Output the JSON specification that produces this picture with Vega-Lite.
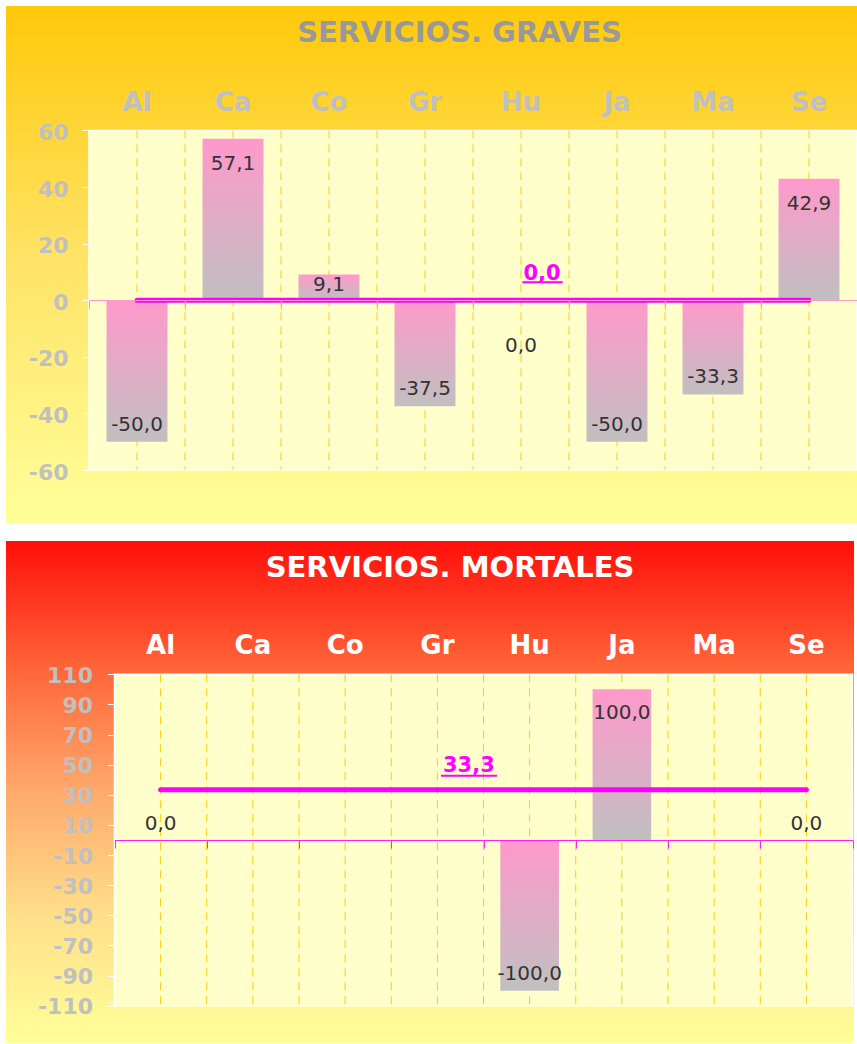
{
  "$schema": "https://vega.github.io/schema/vega-lite/v6.json",
  "padding": {"left": 6, "top": 6, "right": 0, "bottom": 0},
  "background": "white",
  "spacing": 18,
  "config": {
    "locale": {"number": {"decimal": ",", "thousands": ".", "grouping": [3], "currency": ["", " €"], "minus": "-"}},
    "font": "DejaVu Sans",
    "axis": {"grid": false, "title": null}
  },
  "datasets": {
    "graves": [
      {"cat": "Al", "v": -50.0},
      {"cat": "Ca", "v": 57.1},
      {"cat": "Co", "v": 9.1},
      {"cat": "Gr", "v": -37.5},
      {"cat": "Hu", "v": 0.0},
      {"cat": "Ja", "v": -50.0},
      {"cat": "Ma", "v": -33.3},
      {"cat": "Se", "v": 42.9}
    ],
    "mortales": [
      {"cat": "Al", "v": 0.0},
      {"cat": "Ca", "v": null},
      {"cat": "Co", "v": null},
      {"cat": "Gr", "v": null},
      {"cat": "Hu", "v": -100.0},
      {"cat": "Ja", "v": 100.0},
      {"cat": "Ma", "v": null},
      {"cat": "Se", "v": 0.0}
    ],
    "graves_media": [{"cat": "Al", "media": 0.0}, {"cat": "Se", "media": 0.0}],
    "mortales_media": [{"cat": "Al", "media": 33.3}, {"cat": "Se", "media": 33.3}]
  },
  "vconcat": [
    {
      "width": 851,
      "height": 517,
      "view": {"stroke": null, "fill": {"gradient": "linear", "x1": 0, "y1": 0, "x2": 0, "y2": 1, "stops": [{"offset": 0, "color": "#FFC90A"}, {"offset": 0.5, "color": "#FFE468"}, {"offset": 1, "color": "#FFFF99"}]}},
      "title": {"text": "SERVICIOS. GRAVES", "anchor": "middle", "frame": "group", "offset": -64.5, "baseline": "alphabetic", "dx": 28, "fontSize": 29, "fontWeight": "bold", "color": "#999999", "font": "DejaVu Sans"},
      "data": {"name": "graves"},
      "resolve": {"axis": {"x": "independent", "y": "independent"}},
      "layer": [
        {
          "data": {"values": [{}]},
          "mark": {"type": "rect", "fill": "#FFFFCC", "stroke": "white", "strokeWidth": 1.5},
          "encoding": {
            "x": {"datum": "Al", "bandPosition": 0, "type": "nominal", "scale": {"type": "band", "domain": ["Al", "Ca", "Co", "Gr", "Hu", "Ja", "Ma", "Se"], "range": [83, 851], "paddingInner": 0, "paddingOuter": 0}, "axis": null},
            "x2": {"datum": "Se", "bandPosition": 1},
            "y": {"datum": 60, "type": "quantitative", "scale": {"domain": [-78.73, 104.0], "nice": false, "zero": false}, "axis": null},
            "y2": {"datum": -60}
          }
        },
        {
          "mark": {"type": "rule", "color": "#FFCC00", "strokeDash": [8, 6], "strokeWidth": 1},
          "encoding": {
            "x": {"field": "cat", "type": "nominal", "scale": {"type": "band", "domain": ["Al", "Ca", "Co", "Gr", "Hu", "Ja", "Ma", "Se"], "range": [83, 851], "paddingInner": 0, "paddingOuter": 0},
              "axis": {"orient": "top", "offset": -104, "domain": false, "ticks": false, "tickSize": 0, "labelPadding": 0, "labelBaseline": "alphabetic", "labelFont": "DejaVu Sans", "labelFontSize": 26, "labelFontWeight": "bold", "labelColor": "#C0C0C0", "labelAngle": 0, "grid": false, "zindex": 1, "title": null}},
            "y": {"datum": 60, "type": "quantitative", "scale": {"domain": [-78.73, 104.0], "nice": false, "zero": false}, "axis": null},
            "y2": {"datum": -60}
          }
        },
        {
          "transform": [{"filter": "datum.cat != 'Al'"}],
          "mark": {"type": "rule", "color": "#FFCC00", "strokeDash": [8, 6], "strokeWidth": 1},
          "encoding": {
            "x": {"field": "cat", "type": "nominal", "bandPosition": 0, "scale": {"type": "band", "domain": ["Al", "Ca", "Co", "Gr", "Hu", "Ja", "Ma", "Se"], "range": [83, 851], "paddingInner": 0, "paddingOuter": 0}, "axis": null},
            "y": {"datum": 60, "type": "quantitative", "scale": {"domain": [-78.73, 104.0], "nice": false, "zero": false}, "axis": null},
            "y2": {"datum": -60}
          }
        },
        {
          "transform": [{"filter": "datum.v != null"}],
          "mark": {"type": "bar", "width": {"band": 0.635}, "color": {"gradient": "linear", "x1": 0, "y1": 0, "x2": 0, "y2": 1, "stops": [{"offset": 0, "color": "#FF99CC"}, {"offset": 1, "color": "#C0C0C0"}]}},
          "encoding": {
            "x": {"field": "cat", "type": "nominal", "scale": {"type": "band", "domain": ["Al", "Ca", "Co", "Gr", "Hu", "Ja", "Ma", "Se"], "range": [83, 851], "paddingInner": 0, "paddingOuter": 0},
              "axis": {"orient": "bottom", "offset": -223, "labels": false, "domain": true, "domainColor": "#FF99CC", "domainWidth": 1, "ticks": true, "tickColor": "#FF99CC", "tickSize": 9, "tickBand": "extent", "grid": false, "zindex": 1, "title": null}},
            "y": {"field": "v", "type": "quantitative", "scale": {"domain": [-78.73, 104.0], "nice": false, "zero": false},
              "axis": {"orient": "left", "offset": -83, "values": [-60, -40, -20, 0, 20, 40, 60], "domain": false, "ticks": true, "tickColor": "white", "tickSize": 7, "labelPadding": 14, "labelFont": "DejaVu Sans", "labelFontSize": 22, "labelFontWeight": "bold", "labelColor": "#C0C0C0", "labelOffset": 2, "format": "d", "grid": false, "zindex": 1, "title": null}}
          }
        },
        {
          "transform": [{"filter": "datum.v != null && datum.v >= 20"}],
          "mark": {"type": "text", "font": "DejaVu Sans", "fontSize": 20, "color": "#333333", "baseline": "middle", "dy": 25},
          "encoding": {
            "x": {"field": "cat", "type": "nominal", "scale": {"type": "band", "domain": ["Al", "Ca", "Co", "Gr", "Hu", "Ja", "Ma", "Se"], "range": [83, 851], "paddingInner": 0, "paddingOuter": 0}, "axis": null},
            "y": {"field": "v", "type": "quantitative", "scale": {"domain": [-78.73, 104.0], "nice": false, "zero": false}, "axis": null},
            "text": {"field": "v", "type": "quantitative", "format": ".1f"}
          }
        },
        {
          "transform": [{"filter": "datum.v != null && datum.v > 0 && datum.v < 20"}],
          "mark": {"type": "text", "font": "DejaVu Sans", "fontSize": 20, "color": "#333333", "baseline": "middle", "dy": 10},
          "encoding": {
            "x": {"field": "cat", "type": "nominal", "scale": {"type": "band", "domain": ["Al", "Ca", "Co", "Gr", "Hu", "Ja", "Ma", "Se"], "range": [83, 851], "paddingInner": 0, "paddingOuter": 0}, "axis": null},
            "y": {"field": "v", "type": "quantitative", "scale": {"domain": [-78.73, 104.0], "nice": false, "zero": false}, "axis": null},
            "text": {"field": "v", "type": "quantitative", "format": ".1f"}
          }
        },
        {
          "transform": [{"filter": "datum.v != null && datum.v < 0"}],
          "mark": {"type": "text", "font": "DejaVu Sans", "fontSize": 20, "color": "#333333", "baseline": "middle", "dy": -17},
          "encoding": {
            "x": {"field": "cat", "type": "nominal", "scale": {"type": "band", "domain": ["Al", "Ca", "Co", "Gr", "Hu", "Ja", "Ma", "Se"], "range": [83, 851], "paddingInner": 0, "paddingOuter": 0}, "axis": null},
            "y": {"field": "v", "type": "quantitative", "scale": {"domain": [-78.73, 104.0], "nice": false, "zero": false}, "axis": null},
            "text": {"field": "v", "type": "quantitative", "format": ".1f"}
          }
        },
        {
          "transform": [{"filter": "datum.v != null && datum.v == 0"}],
          "mark": {"type": "text", "font": "DejaVu Sans", "fontSize": 20, "color": "#333333", "baseline": "middle", "dy": 45.5},
          "encoding": {
            "x": {"field": "cat", "type": "nominal", "scale": {"type": "band", "domain": ["Al", "Ca", "Co", "Gr", "Hu", "Ja", "Ma", "Se"], "range": [83, 851], "paddingInner": 0, "paddingOuter": 0}, "axis": null},
            "y": {"field": "v", "type": "quantitative", "scale": {"domain": [-78.73, 104.0], "nice": false, "zero": false}, "axis": null},
            "text": {"field": "v", "type": "quantitative", "format": ".1f"}
          }
        },
        {
          "data": {"name": "graves_media"},
          "mark": {"type": "line", "color": "#FF00FF", "strokeWidth": 5, "strokeCap": "round"},
          "encoding": {
            "x": {"field": "cat", "type": "nominal", "scale": {"type": "band", "domain": ["Al", "Ca", "Co", "Gr", "Hu", "Ja", "Ma", "Se"], "range": [83, 851], "paddingInner": 0, "paddingOuter": 0}, "axis": null},
            "y": {"field": "media", "type": "quantitative", "scale": {"domain": [-78.73, 104.0], "nice": false, "zero": false}, "axis": null}
          }
        },
        {
          "data": {"name": "graves_media"},
          "transform": [{"filter": "datum.cat == 'Al'"}],
          "mark": {"type": "text", "font": "DejaVu Sans", "fontSize": 21, "fontWeight": "bold", "color": "#FF00FF", "baseline": "middle", "dx": 21, "dy": -26.4},
          "encoding": {
            "x": {"datum": "Hu", "type": "nominal", "scale": {"type": "band", "domain": ["Al", "Ca", "Co", "Gr", "Hu", "Ja", "Ma", "Se"], "range": [83, 851], "paddingInner": 0, "paddingOuter": 0}, "axis": null},
            "y": {"field": "media", "type": "quantitative", "scale": {"domain": [-78.73, 104.0], "nice": false, "zero": false}, "axis": null},
            "text": {"field": "media", "type": "quantitative", "format": ".1f"}
          }
        },
        {
          "data": {"name": "graves_media"},
          "transform": [{"filter": "datum.cat == 'Al'"}],
          "mark": {"type": "rule", "color": "#FF00FF", "strokeWidth": 2},
          "encoding": {
            "x": {"datum": "Hu", "bandPosition": 0.514, "type": "nominal", "scale": {"type": "band", "domain": ["Al", "Ca", "Co", "Gr", "Hu", "Ja", "Ma", "Se"], "range": [83, 851], "paddingInner": 0, "paddingOuter": 0}, "axis": null},
            "x2": {"datum": "Hu", "bandPosition": 0.934},
            "y": {"field": "media", "type": "quantitative", "scale": {"domain": [-78.73, 104.0], "nice": false, "zero": false}, "axis": null},
            "yOffset": {"value": -18}
          }
        }
      ]
    },
    {
      "width": 848,
      "height": 502,
      "view": {"stroke": null, "fill": {"gradient": "linear", "x1": 0, "y1": 0, "x2": 0, "y2": 1, "stops": [{"offset": 0, "color": "#FF0F0A"}, {"offset": 0.25, "color": "#FF6438"}, {"offset": 0.5, "color": "#FFAA6C"}, {"offset": 0.75, "color": "#FFE08A"}, {"offset": 1, "color": "#FFFF99"}]}},
      "title": {"text": "SERVICIOS. MORTALES", "anchor": "middle", "frame": "group", "offset": -65, "baseline": "alphabetic", "dx": 20, "fontSize": 29, "fontWeight": "bold", "color": "white", "font": "DejaVu Sans"},
      "data": {"name": "mortales"},
      "resolve": {"axis": {"x": "independent", "y": "independent"}},
      "layer": [
        {
          "data": {"values": [{}]},
          "mark": {"type": "rect", "fill": "#FFFFCC", "stroke": "white", "strokeWidth": 1.5},
          "encoding": {
            "x": {"datum": "Al", "bandPosition": 0, "type": "nominal", "scale": {"type": "band", "domain": ["Al", "Ca", "Co", "Gr", "Hu", "Ja", "Ma", "Se"], "range": [108.5, 846.5], "paddingInner": 0, "paddingOuter": 0}, "axis": null},
            "x2": {"datum": "Se", "bandPosition": 1},
            "y": {"datum": 110, "type": "quantitative", "scale": {"domain": [-134.76, 198.5], "nice": false, "zero": false}, "axis": null},
            "y2": {"datum": -110}
          }
        },
        {
          "mark": {"type": "rule", "color": "#FFCC00", "strokeDash": [8, 6], "strokeWidth": 1},
          "encoding": {
            "x": {"field": "cat", "type": "nominal", "scale": {"type": "band", "domain": ["Al", "Ca", "Co", "Gr", "Hu", "Ja", "Ma", "Se"], "range": [108.5, 846.5], "paddingInner": 0, "paddingOuter": 0},
              "axis": {"orient": "top", "offset": -112, "domain": false, "ticks": false, "tickSize": 0, "labelPadding": 0, "labelBaseline": "alphabetic", "labelFont": "DejaVu Sans", "labelFontSize": 26, "labelFontWeight": "bold", "labelColor": "white", "labelAngle": 0, "grid": false, "zindex": 1, "title": null}},
            "y": {"datum": 110, "type": "quantitative", "scale": {"domain": [-134.76, 198.5], "nice": false, "zero": false}, "axis": null},
            "y2": {"datum": -110}
          }
        },
        {
          "transform": [{"filter": "datum.cat != 'Al'"}],
          "mark": {"type": "rule", "color": "#FFCC00", "strokeDash": [8, 6], "strokeWidth": 1},
          "encoding": {
            "x": {"field": "cat", "type": "nominal", "bandPosition": 0, "scale": {"type": "band", "domain": ["Al", "Ca", "Co", "Gr", "Hu", "Ja", "Ma", "Se"], "range": [108.5, 846.5], "paddingInner": 0, "paddingOuter": 0}, "axis": null},
            "y": {"datum": 110, "type": "quantitative", "scale": {"domain": [-134.76, 198.5], "nice": false, "zero": false}, "axis": null},
            "y2": {"datum": -110}
          }
        },
        {
          "transform": [{"filter": "datum.v != null"}],
          "mark": {"type": "bar", "width": {"band": 0.635}, "color": {"gradient": "linear", "x1": 0, "y1": 0, "x2": 0, "y2": 1, "stops": [{"offset": 0, "color": "#FF99CC"}, {"offset": 1, "color": "#C0C0C0"}]}},
          "encoding": {
            "x": {"field": "cat", "type": "nominal", "scale": {"type": "band", "domain": ["Al", "Ca", "Co", "Gr", "Hu", "Ja", "Ma", "Se"], "range": [108.5, 846.5], "paddingInner": 0, "paddingOuter": 0},
              "axis": {"orient": "bottom", "offset": -203, "labels": false, "domain": true, "domainColor": "#FF22EE", "domainWidth": 1, "ticks": true, "tickColor": "#FF22EE", "tickSize": 8, "tickBand": "extent", "grid": false, "zindex": 1, "title": null}},
            "y": {"field": "v", "type": "quantitative", "scale": {"domain": [-134.76, 198.5], "nice": false, "zero": false},
              "axis": {"orient": "left", "offset": -108.5, "values": [-110, -90, -70, -50, -30, -10, 10, 30, 50, 70, 90, 110], "domain": false, "ticks": true, "tickColor": "white", "tickSize": 7, "labelPadding": 15, "labelFont": "DejaVu Sans", "labelFontSize": 22, "labelFontWeight": "bold", "labelColor": "#C0C0C0", "labelOffset": 1, "format": "d", "grid": false, "zindex": 1, "title": null}}
          }
        },
        {
          "transform": [{"filter": "datum.v != null && datum.v > 0"}],
          "mark": {"type": "text", "font": "DejaVu Sans", "fontSize": 20, "color": "#333333", "baseline": "middle", "dy": 24},
          "encoding": {
            "x": {"field": "cat", "type": "nominal", "scale": {"type": "band", "domain": ["Al", "Ca", "Co", "Gr", "Hu", "Ja", "Ma", "Se"], "range": [108.5, 846.5], "paddingInner": 0, "paddingOuter": 0}, "axis": null},
            "y": {"field": "v", "type": "quantitative", "scale": {"domain": [-134.76, 198.5], "nice": false, "zero": false}, "axis": null},
            "text": {"field": "v", "type": "quantitative", "format": ".1f"}
          }
        },
        {
          "transform": [{"filter": "datum.v != null && datum.v < 0"}],
          "mark": {"type": "text", "font": "DejaVu Sans", "fontSize": 20, "color": "#333333", "baseline": "middle", "dy": -17},
          "encoding": {
            "x": {"field": "cat", "type": "nominal", "scale": {"type": "band", "domain": ["Al", "Ca", "Co", "Gr", "Hu", "Ja", "Ma", "Se"], "range": [108.5, 846.5], "paddingInner": 0, "paddingOuter": 0}, "axis": null},
            "y": {"field": "v", "type": "quantitative", "scale": {"domain": [-134.76, 198.5], "nice": false, "zero": false}, "axis": null},
            "text": {"field": "v", "type": "quantitative", "format": ".1f"}
          }
        },
        {
          "transform": [{"filter": "datum.v != null && datum.v == 0"}],
          "mark": {"type": "text", "font": "DejaVu Sans", "fontSize": 20, "color": "#333333", "baseline": "middle", "dy": -16},
          "encoding": {
            "x": {"field": "cat", "type": "nominal", "scale": {"type": "band", "domain": ["Al", "Ca", "Co", "Gr", "Hu", "Ja", "Ma", "Se"], "range": [108.5, 846.5], "paddingInner": 0, "paddingOuter": 0}, "axis": null},
            "y": {"field": "v", "type": "quantitative", "scale": {"domain": [-134.76, 198.5], "nice": false, "zero": false}, "axis": null},
            "text": {"field": "v", "type": "quantitative", "format": ".1f"}
          }
        },
        {
          "data": {"name": "mortales_media"},
          "mark": {"type": "line", "color": "#FF00FF", "strokeWidth": 5, "strokeCap": "round"},
          "encoding": {
            "x": {"field": "cat", "type": "nominal", "scale": {"type": "band", "domain": ["Al", "Ca", "Co", "Gr", "Hu", "Ja", "Ma", "Se"], "range": [108.5, 846.5], "paddingInner": 0, "paddingOuter": 0}, "axis": null},
            "y": {"field": "media", "type": "quantitative", "scale": {"domain": [-134.76, 198.5], "nice": false, "zero": false}, "axis": null}
          }
        },
        {
          "data": {"name": "mortales_media"},
          "transform": [{"filter": "datum.cat == 'Al'"}],
          "mark": {"type": "text", "font": "DejaVu Sans", "fontSize": 21, "fontWeight": "bold", "color": "#FF00FF", "baseline": "middle", "dx": 31.5, "dy": -23.4},
          "encoding": {
            "x": {"datum": "Gr", "type": "nominal", "scale": {"type": "band", "domain": ["Al", "Ca", "Co", "Gr", "Hu", "Ja", "Ma", "Se"], "range": [108.5, 846.5], "paddingInner": 0, "paddingOuter": 0}, "axis": null},
            "y": {"field": "media", "type": "quantitative", "scale": {"domain": [-134.76, 198.5], "nice": false, "zero": false}, "axis": null},
            "text": {"field": "media", "type": "quantitative", "format": ".1f"}
          }
        },
        {
          "data": {"name": "mortales_media"},
          "transform": [{"filter": "datum.cat == 'Al'"}],
          "mark": {"type": "rule", "color": "#FF00FF", "strokeWidth": 2},
          "encoding": {
            "x": {"datum": "Gr", "bandPosition": 0.539, "type": "nominal", "scale": {"type": "band", "domain": ["Al", "Ca", "Co", "Gr", "Hu", "Ja", "Ma", "Se"], "range": [108.5, 846.5], "paddingInner": 0, "paddingOuter": 0}, "axis": null},
            "x2": {"datum": "Hu", "bandPosition": 0.146},
            "y": {"field": "media", "type": "quantitative", "scale": {"domain": [-134.76, 198.5], "nice": false, "zero": false}, "axis": null},
            "yOffset": {"value": -14}
          }
        }
      ]
    }
  ]
}
